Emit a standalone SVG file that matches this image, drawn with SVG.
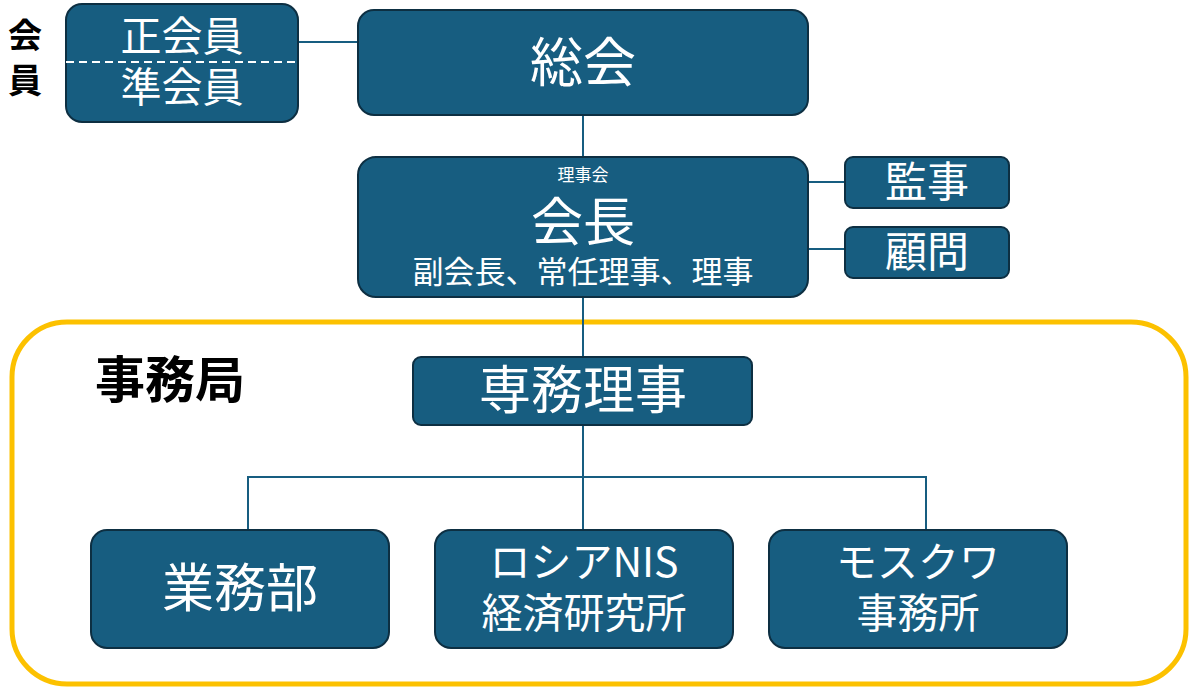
<svg xmlns="http://www.w3.org/2000/svg" width="1200" height="688" viewBox="0 0 1200 688">
<style>
.n{fill:#175d80;stroke:#0d2f42;stroke-width:2}
.t{fill:#fff;font-family:"Noto Sans CJK JP","Noto Sans",sans-serif;text-anchor:middle}
.c{stroke:#175d80;stroke-width:2;fill:none}
.b{fill:#000;font-family:"Noto Sans CJK JP",sans-serif;font-weight:bold}
</style>
<rect width="1200" height="688" fill="#fff"/>
<rect x="12" y="322" width="1174" height="362" rx="55" fill="none" stroke="#fcc100" stroke-width="5"/>
<text class="b" x="95" y="398" font-size="50">事務局</text>
<text class="b" x="25" y="48" font-size="34" text-anchor="middle">会</text>
<text class="b" x="25" y="93" font-size="34" text-anchor="middle">員</text>
<g id="connectors">
<path class="c" d="M298 42H358M583 115V157M808 182H845M808 249H845M583 297V357M583 425V530M248 530V477H926V530"/>
</g>
<g id="members"><rect class="n" x="66" y="4" width="232" height="118" rx="16"/>
<line x1="66" y1="62" x2="298" y2="62" stroke="#fff" stroke-width="2" stroke-dasharray="8,5"/>
<text class="t" x="182" y="51" font-size="41">正会員</text><text class="t" x="182" y="102" font-size="41">準会員</text></g>
<g id="soukai"><rect class="n" x="358" y="10" width="450" height="105" rx="16"/><text class="t" x="583" y="82" font-size="53">総会</text></g>
<g id="rijikai"><rect class="n" x="358" y="157" width="450" height="140" rx="18"/>
<text class="t" x="583" y="181" font-size="17">理事会</text>
<text class="t" x="583" y="241" font-size="52">会長</text>
<text class="t" x="583" y="283" font-size="31">副会長、常任理事、理事</text></g>
<g id="kansa"><rect class="n" x="845" y="157" width="164" height="51" rx="8"/><text class="t" x="927" y="197" font-size="42">監事</text></g>
<g id="komon"><rect class="n" x="845" y="227" width="164" height="51" rx="8"/><text class="t" x="927" y="267" font-size="42">顧問</text></g>
<g id="senmu"><rect class="n" x="413" y="357" width="339" height="68" rx="8"/><text class="t" x="583" y="409" font-size="52">専務理事</text></g>
<g id="gyomu"><rect class="n" x="91" y="530" width="298" height="118" rx="16"/><text class="t" x="240" y="607" font-size="52">業務部</text></g>
<g id="russia"><rect class="n" x="435" y="530" width="298" height="118" rx="16"/><text class="t" x="584" y="577" font-size="41">ロシアNIS</text><text class="t" x="584" y="628" font-size="41">経済研究所</text></g>
<g id="moscow"><rect class="n" x="769" y="530" width="298" height="118" rx="16"/><text class="t" x="918" y="577" font-size="41">モスクワ</text><text class="t" x="918" y="628" font-size="41">事務所</text></g>
</svg>
